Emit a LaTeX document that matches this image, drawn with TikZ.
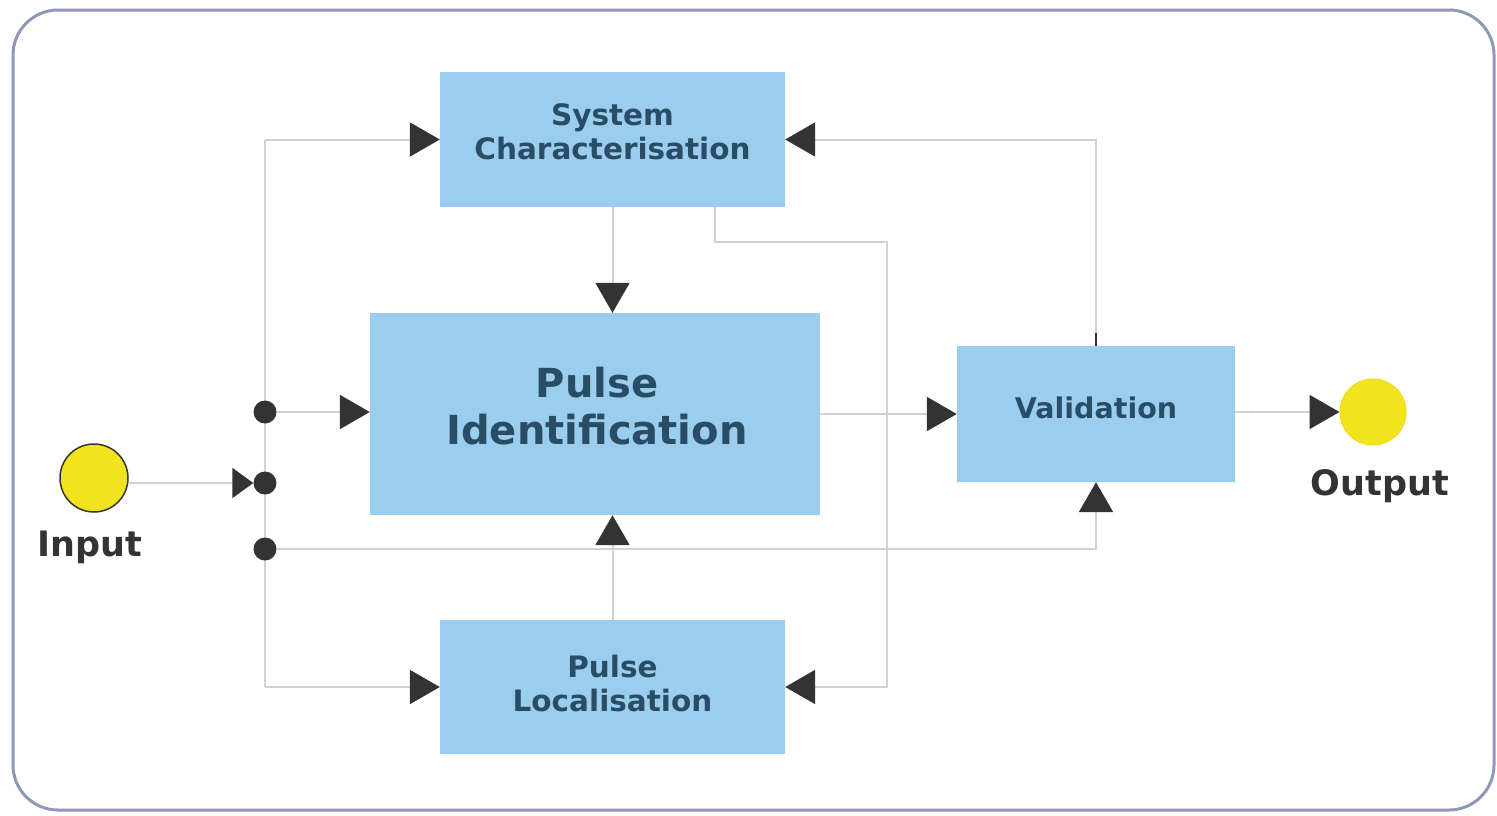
\documentclass[tikz,border=0pt]{standalone}
\usepackage{fontspec}
\setmainfont{DejaVu Sans}
\usetikzlibrary{arrows.meta}
\definecolor{boxfill}{HTML}{9ACDEE}
\definecolor{boxtext}{HTML}{2A4D66}
\definecolor{labeltext}{HTML}{333333}
\definecolor{linegray}{HTML}{D2D2D2}
\definecolor{tipdark}{HTML}{333333}
\definecolor{framecol}{HTML}{9098B8}
\definecolor{sun}{HTML}{F2E41C}
\begin{document}
\begin{tikzpicture}[x=1pt,y=-1pt,
  procbox/.style={rectangle, fill=boxfill, inner sep=0pt},
  boxtxt/.style={text=boxtext, align=center, inner sep=0pt},
  conn/.style={draw=linegray, line width=2pt, -{Triangle[length=30pt,width=34pt,color=tipdark]}},
  plain/.style={draw=linegray, line width=2pt},
  junction/.style={circle, fill=tipdark, minimum size=23pt, inner sep=0pt},
  lbl/.style={text=labeltext, font=\fontsize{35}{40}\selectfont\bfseries}
]
\useasboundingbox (0,0) rectangle (1497,815);
\draw[framecol, line width=3pt, rounded corners=45pt] (13,10) rectangle (1494,810);

\node[procbox, minimum width=345pt, minimum height=135pt] (SC) at (612.5,139.5) {};
\node[boxtxt, font=\fontsize{29.5}{34}\selectfont\bfseries] (SCt) at ([yshift=8pt]SC.center) {System\\Characterisation};
\node[procbox, minimum width=450pt, minimum height=202pt] (PI) at (595,414) {};
\node[boxtxt, font=\fontsize{40}{47}\selectfont\bfseries] (PIt) at ([xshift=2pt,yshift=8pt]PI.center) {Pulse\\Identification};
\node[procbox, minimum width=278pt, minimum height=136pt] (Val) at (1096,414) {};
\node[boxtxt, font=\fontsize{28.5}{34}\selectfont\bfseries] (Valt) at ([yshift=6pt]Val.center) {Validation};
\node[procbox, minimum width=345pt, minimum height=134pt] (PL) at (612.5,687) {};
\node[boxtxt, font=\fontsize{29.5}{34}\selectfont\bfseries] (PLt) at ([yshift=4pt]PL.center) {Pulse\\Localisation};

\node[circle, fill=sun, draw=labeltext, line width=1.5pt, minimum size=68pt, inner sep=0pt] (in) at (94,478) {};
\node[lbl] (inlbl) at (90,547) {Input};
\node[circle, fill=sun, draw=sun!90!orange, line width=1pt, minimum size=66pt, inner sep=0pt] (out) at (1373,412) {};
\node[lbl] (outlbl) at (1380,486) {Output};

\coordinate (vt) at (265,139.5);
\coordinate (vb) at (265,687);
\draw[plain] (vt) -- (vb);

\node[junction] (d1) at (265,412) {};
\node[junction] (d2) at (265,483) {};
\node[junction] (d3) at (265,549) {};

\draw[draw=linegray, line width=2pt, -{Triangle[length=21pt,width=30pt,color=tipdark]}] (in.east |- d2) -- (d2.west);
\draw[conn] (vt) -- (SC.west);
\draw[conn] (d1) -- (d1 -| PI.west);
\draw[conn] (vb) -- (PL.west);
\draw[conn] (d3) -- (d3 -| Val.south) -- (Val.south);
\draw[conn] (SC.south) -- (SC.south |- PI.north);
\draw[conn] (PL.north) -- (PL.north |- PI.south);
\coordinate (s1) at ([xshift=102.5pt]SC.south);
\coordinate (s2) at (887,242);
\draw[conn] (s1) -- (s1 |- s2) -- (s2) -- (s2 |- PL.east) -- (PL.east);
\draw[conn] (PI.east |- Val.west) -- (Val.west);
\draw[conn] (Val.north) -- (Val.north |- SC.east) -- (SC.east);
\draw[draw=tipdark, line width=2pt] (Val.north) -- ++(0,-13);
\draw[conn] (Val.east |- out) -- (out.west);
\end{tikzpicture}
\end{document}
